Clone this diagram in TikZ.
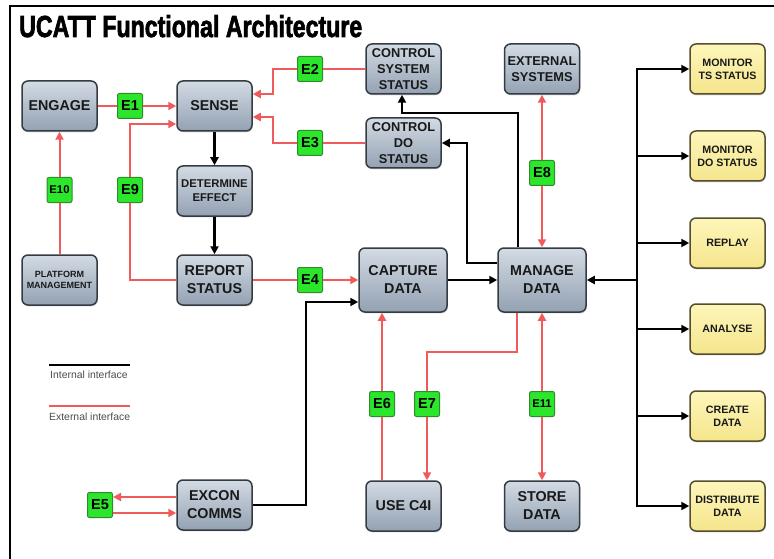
\documentclass[tikz,border=0pt]{standalone}
\usepackage{fontspec}
\usepackage{graphicx}
\setmainfont{Liberation Sans}
\newfontfamily\titlefont[FakeBold=2.5]{Liberation Sans Bold}
\usetikzlibrary{arrows.meta,shadows}
\definecolor{gtop}{HTML}{D3DBE4}
\definecolor{gbot}{HTML}{93A1B2}
\definecolor{gborder}{HTML}{353B42}
\definecolor{ytop}{HTML}{FDF6BA}
\definecolor{ybot}{HTML}{F5E58C}
\definecolor{yborder}{HTML}{544D2E}
\definecolor{efill}{HTML}{2BE62B}
\definecolor{eborder}{HTML}{2E8B2E}
\definecolor{extred}{HTML}{F05A5A}
\definecolor{legtxt}{HTML}{4D4D4D}
\newcommand\fBig{\bfseries\fontsize{14.3}{18}\selectfont}
\newcommand\fMid{\bfseries\fontsize{12.8}{16}\selectfont}
\newcommand\fSm{\bfseries\fontsize{11.3}{13.7}\selectfont}
\newcommand\fYel{\bfseries\fontsize{10.7}{13.3}\selectfont}
\newcommand\fTiny{\bfseries\fontsize{9}{11.7}\selectfont}
\begin{document}
\begin{tikzpicture}[x=1pt,y=-1pt,
  box/.style={draw=gborder, line width=1.5pt, rounded corners=6pt, top color=gtop, bottom color=gbot,
    minimum width=75pt, minimum height=50pt, inner sep=0pt, align=center, text=black!90,
    drop shadow={opacity=0.3,shadow xshift=0.8pt,shadow yshift=-1.4pt}},
  ybox/.style={box, draw=yborder, top color=ytop, bottom color=ybot, font=\fYel},
  elab/.style={draw=eborder, line width=1pt, fill=efill, rounded corners=2pt, minimum width=25pt,
    minimum height=25pt, inner sep=0pt, font=\bfseries\fontsize{14.5}{14.5}\selectfont},
  elabs/.style={elab, font=\bfseries\fontsize{11.3}{11.3}\selectfont},
  blk/.style={draw=black, line width=2.1pt},
  redl/.style={draw=extred, line width=2pt},
  arr/.style={-{Triangle[length=8pt,width=8pt]}},
  legend/.style={anchor=west, inner sep=0pt, text=legtxt, font=\fontsize{10.4}{12}\selectfont},
]
\useasboundingbox (0,0) rectangle (774,559);
\fill[white] (0,0) rectangle (774,559);
\draw[line width=2.2pt] (10,559) -- (10,6) -- (774,6);

\node[anchor=base west, inner sep=0pt] (title) at (19,37)
  {\resizebox{343pt}{22pt}{\titlefont UCATT Functional Architecture}};

% grey boxes
\node[box, font=\fBig] (engage) at (59.5,106) {ENGAGE};
\node[box, font=\fBig] (sense) at (214.5,106) {SENSE};
\node[box, font=\fSm] (det) at (214.5,191) {DETERMINE\\EFFECT};
\node[box, font=\fBig] (report) at (214.5,280) {REPORT\\STATUS};
\node[box, font=\fTiny] (platform) at (59.5,280) {PLATFORM\\MANAGEMENT};
\node[box, font=\fMid] (css) at (403.5,69) {CONTROL\\SYSTEM\\STATUS};
\node[box, font=\fMid] (cdo) at (403.5,143) {CONTROL\\DO\\STATUS};
\node[box, font=\fMid] (ext) at (542,69) {EXTERNAL\\SYSTEMS};
\node[box, font=\fBig, minimum width=88pt, minimum height=64pt] (capture) at (403,280) {CAPTURE\\DATA};
\node[box, font=\fBig, minimum width=88pt, minimum height=64pt] (manage) at (542,280) {MANAGE\\DATA};
\node[box, font=\fBig] (excon) at (214.5,505) {EXCON\\COMMS};
\node[box, font=\fBig] (usec4i) at (403.5,506) {USE C4I};
\node[box, font=\fBig] (store) at (542,506) {STORE\\DATA};

% yellow boxes
\node[ybox] (mts) at (727.5,69) {MONITOR\\TS STATUS};
\node[ybox] (mdo) at (727.5,156) {MONITOR\\DO STATUS};
\node[ybox] (replay) at (727.5,243) {REPLAY};
\node[ybox] (analyse) at (727.5,329) {ANALYSE};
\node[ybox] (create) at (727.5,416) {CREATE\\DATA};
\node[ybox] (dist) at (727.5,506) {DISTRIBUTE\\DATA};

% interface labels
\node[elab] (e1) at (130,106) {E1};
\node[elab] (e2) at (310,69) {E2};
\node[elab] (e3) at (310,143) {E3};
\node[elab] (e4) at (310,280) {E4};
\node[elab] (e5) at (100,505) {E5};
\node[elab] (e6) at (382,404) {E6};
\node[elab] (e7) at (427,404) {E7};
\node[elab] (e8) at (542,173) {E8};
\node[elab] (e9) at (130,190) {E9};
\node[elabs] (e10) at (59.5,190) {E10};
\node[elabs] (e11) at (542,404) {E11};

% external (red) interfaces
\draw[redl] (engage) -- (e1);
\draw[redl,arr] (e1) -- (sense);
\draw[redl] (css) -- (e2);
\draw[redl,arr] (e2.west) -- ++(-24,0) |- ([yshift=12pt]sense.east);
\draw[redl] (cdo) -- (e3);
\draw[redl,arr] (e3.west) -- ++(-24,0) |- ([yshift=-11pt]sense.east);
\draw[redl] (report.west) -| (e9.south);
\draw[redl,arr] (e9.north) |- ([yshift=-18pt]sense.west);
\draw[redl] (platform) -- (e10);
\draw[redl,arr] (e10) -- (engage);
\draw[redl] (report) -- (e4);
\draw[redl,arr] (e4) -- (capture);
\draw[redl,arr] ([yshift=8pt]excon.west) -- ([yshift=8pt]e5.east);
\draw[redl,arr] ([yshift=-8pt]e5.east) -- ([yshift=-8pt]excon.west);
\draw[redl] (usec4i.north -| e6) -- (e6);
\draw[redl,arr] (e6) -- (e6 |- capture.south);
\draw[redl] ([xshift=-25pt]manage.south) -- ++(0,39) -| (e7.north);
\draw[redl,arr] (e7) -- (e7 |- usec4i.north);
\draw[redl,arr] (e8) -- (ext);
\draw[redl,arr] (e8) -- (manage);
\draw[redl,arr] (e11) -- (manage);
\draw[redl,arr] (e11) -- (store);

% internal (black) interfaces
\draw[blk,arr] (sense) -- (det);
\draw[blk,arr] (det) -- (report);
\draw[blk,arr] (capture) -- (manage);
\draw[blk,arr] ([xshift=-24pt]manage.north) -- ++(0,-134) -| ([xshift=-1.5pt]css.south);
\draw[blk,arr] ([yshift=17pt]manage.west) -- ++(-30,0) |- (cdo.east);
\draw[blk,arr] (excon.east) -- ++(53,0) |- ([yshift=-22pt]capture.west);

\coordinate (bus) at (637,69);
\draw[blk, line cap=rect] (bus |- mts.west) -- (bus |- dist.west);
\foreach \n in {mts,mdo,replay,analyse,create,dist}
  \draw[blk,arr] (bus |- \n.west) -- (\n.west);
\draw[blk,arr] (bus |- manage.east) -- (manage.east);

% legend
\coordinate (la) at (49,365);
\coordinate (lb) at (130,365);
\coordinate (lc) at (49,406);
\coordinate (ld) at (130,406);
\draw[blk, line width=1.6pt] (la) -- (lb);
\draw[redl, line width=1.6pt] (lc) -- (ld);
\node[legend] (lint) at (50,375) {Internal interface};
\node[legend] (lext) at (49,417) {External interface};
\end{tikzpicture}
\end{document}
